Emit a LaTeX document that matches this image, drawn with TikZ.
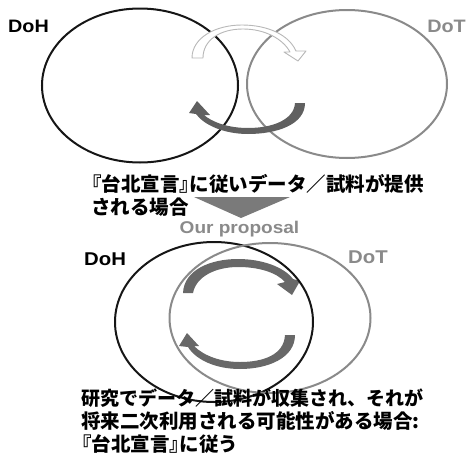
\documentclass[tikz,border=0pt]{standalone}
\usepackage{fontspec}
\usepackage{graphicx}
\setmainfont{Liberation Sans}
\newfontfamily\jp{Noto Sans CJK JP}
\usetikzlibrary{shapes.geometric}
\newcommand\lbk{\kern-0.5em『}
\newcommand\rbk{』\kern-0.5em}
\definecolor{inkblack}{HTML}{161616}
\definecolor{inkgray}{HTML}{8A8A8A}
\definecolor{arrowdark}{HTML}{606060}
\definecolor{arrowmid}{HTML}{686868}
\definecolor{hollowline}{HTML}{B8B8B8}
\definecolor{trigray}{HTML}{7A7A7A}
\begin{document}
\begin{tikzpicture}[x=1pt,y=-1pt,
  ring/.style={ellipse,draw,line width=2pt,inner sep=0pt},
  blackring/.style={ring,draw=inkblack},
  grayring/.style={ring,draw=inkgray},
  latinlabel/.style={inner sep=0pt,font=\bfseries\fontsize{18}{18}\selectfont},
  jptext/.style={inner sep=0pt,anchor=base west,font=\jp\bfseries\fontsize{19.5}{19.5}\selectfont},
  darkarrow/.style={fill=arrowdark,draw=none},
  midarrow/.style={fill=arrowmid,draw=none},
  hollowarrow/.style={fill=white,draw=hollowline,line width=0.9pt,line join=round}]
\useasboundingbox (0,0) rectangle (469,453);

% ---------- top section ----------
\node[blackring,minimum width=196pt,minimum height=154pt] (dohA) at (140,85.5) {};
\node[grayring,minimum width=200pt,minimum height=148pt] (dotA) at (347,84) {};

\draw[hollowarrow] (192,58) .. controls (192,38) and (215,25) .. (242,25)
  .. controls (268,25) and (289,35) .. (296,51) -- (306,51) -- (298,61) -- (284,52) -- (290,52)
  .. controls (283,39) and (265,29) .. (243,29)
  .. controls (220,29) and (203,40) .. (203,58) -- cycle;

\fill[darkarrow] (305,103) .. controls (305,125) and (276,134) .. (248,134)
  .. controls (224,134) and (204,125) .. (196,114) -- (189,113) -- (197,101) -- (210,115) -- (204,115)
  .. controls (212,122) and (228,128) .. (248,128)
  .. controls (272,128) and (294,120) .. (295,103) -- cycle;

\node[latinlabel,anchor=base west] (labDoHA) at (8,32) {\scalebox{1.1}[1]{DoH}};
\node[latinlabel,anchor=base east,text=inkgray] (labDoTA) at (466,32) {\scalebox{1.1}[1]{DoT}};

\node[jptext] (txtA1) at (92,191.5) {\lbk 台北宣言\rbk に従いデータ／試料が提供};
\node[jptext] (txtA2) at (91,214.5) {される場合};

% ---------- transition ----------
\fill[trigray] (194,197) -- (290,197) -- (241,218) -- cycle;
\node[latinlabel,anchor=base,text=inkgray,font=\bfseries\fontsize{17}{17}\selectfont] (proposal) at (239.5,233) {\scalebox{1.12}[1]{Our proposal}};

% ---------- bottom section ----------
\fill[midarrow] (183,293) .. controls (184,270) and (210,259) .. (238,259)
  .. controls (262,259) and (284,267) .. (293,279) -- (300,281) -- (292,295) -- (277,284) -- (285,282)
  .. controls (276,272) and (258,267) .. (238,267)
  .. controls (215,267) and (196,277) .. (193,293) -- cycle;

\fill[midarrow] (295,335) .. controls (295,358) and (268,369) .. (240,369)
  .. controls (216,369) and (196,360) .. (188,347) -- (179,346) -- (187,333) -- (199,346) -- (194,346)
  .. controls (204,356) and (221,362) .. (240,362)
  .. controls (263,362) and (284,355) .. (285,335) -- cycle;

\node[blackring,minimum width=198pt,minimum height=160pt] (dohB) at (214,322) {};
\node[grayring,minimum width=201pt,minimum height=150pt] (dotB) at (270,318) {};

\node[latinlabel,anchor=base west,font=\bfseries\fontsize{18.5}{18.5}\selectfont] (labDoHB) at (84,265) {\scalebox{1.1}[1]{DoH}};
\node[latinlabel,anchor=base east,text=inkgray,font=\bfseries\fontsize{18.5}{18.5}\selectfont] (labDoTB) at (388,263) {\scalebox{1.1}[1]{DoT}};

\node[jptext,font=\jp\bfseries\fontsize{19}{19}\selectfont] (txtB1) at (81,405.5) {研究でデータ／試料が収集され、それが};
\node[jptext] (txtB2) at (81,428.5) {将来二次利用される可能性がある場合:};
\node[jptext] (txtB3) at (82,451) {\lbk 台北宣言\rbk に従う};
\end{tikzpicture}
\end{document}
